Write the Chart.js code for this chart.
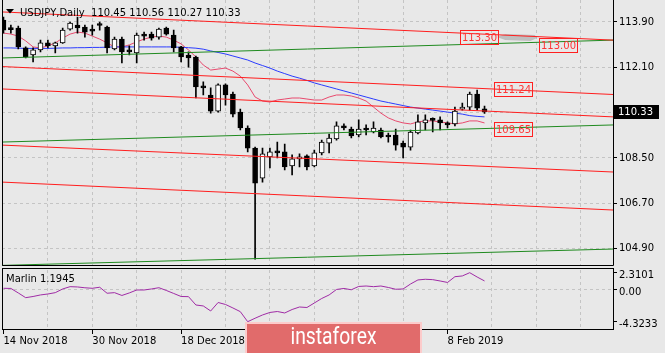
<!DOCTYPE html>
<html>
<head>
<meta charset="utf-8">
<script src="https://cdn.jsdelivr.net/npm/chart.js@4.4.1/dist/chart.umd.min.js"></script>
<style>
  html, body { margin: 0; padding: 0; background: #e8e8e8; }
  #chart { display: block; }
</style>
</head>
<body>
<canvas id="chart" width="665" height="353"></canvas>
<script>
// bar 0 = 14 Nov 2018, last bar = 15 Feb 2019 (daily)
const opens = [113.98,113.62,113.66,112.87,112.59,112.79,113.07,112.95,113.07,113.62,
  113.78,113.70,113.62,113.80,113.70,112.83,113.22,112.79,112.67,113.42,
  113.42,113.30,113.66,113.38,112.91,112.59,112.51,111.32,111.00,110.36,
  111.40,111.04,110.32,109.69,108.89,107.70,108.54,108.74,108.74,108.18,
  108.46,108.58,108.18,108.70,109.09,109.25,109.77,109.65,109.41,109.69,
  109.53,109.61,109.41,109.41,109.09,108.93,109.49,109.89,110.03,110.01,
  109.89,109.85,110.44,110.52,111.04,110.45];
const highs = [114.10,113.78,113.74,112.91,112.87,113.18,113.18,113.10,113.66,113.90,
  114.10,113.78,113.78,113.90,113.74,113.30,113.30,112.95,113.46,113.50,
  113.50,113.66,113.70,113.58,112.93,112.71,112.55,111.52,111.28,111.44,
  111.44,111.12,110.44,109.77,108.93,108.89,108.89,109.13,109.05,108.62,
  108.66,108.62,108.81,109.21,109.45,109.93,109.85,109.73,110.01,109.81,
  109.93,109.69,109.49,109.65,109.17,109.61,110.21,110.21,110.09,110.13,
  109.93,110.52,110.68,111.12,111.20,110.56];
const lows = [113.46,113.46,112.83,112.47,112.31,112.71,112.87,112.67,113.05,113.58,
  113.46,113.30,113.38,113.58,112.67,112.79,112.27,112.59,112.27,113.18,
  113.18,113.22,113.38,112.71,112.31,112.11,110.88,111.00,110.28,110.32,
  110.60,110.13,109.61,108.74,104.48,107.54,108.10,108.50,108.02,107.82,
  108.14,108.02,108.14,108.62,108.70,109.21,109.61,109.29,109.33,109.41,
  109.49,109.29,109.13,108.81,108.50,108.81,109.45,109.61,109.53,109.61,
  109.69,109.77,110.40,110.40,110.40,110.27];
const closes = [113.58,113.60,112.91,112.51,112.79,113.07,112.95,113.07,113.58,113.86,
  113.66,113.50,113.54,113.76,112.87,113.22,112.71,112.71,113.38,113.34,
  113.26,113.62,113.42,112.87,112.51,112.47,111.32,111.28,110.36,111.40,
  111.00,110.24,109.69,108.89,107.50,108.66,108.74,108.70,108.14,108.46,
  108.54,108.14,108.70,109.13,109.29,109.77,109.69,109.37,109.65,109.61,
  109.69,109.33,109.33,109.01,108.93,109.53,109.93,110.01,109.99,109.89,
  109.81,110.36,110.52,111.04,110.48,110.33];

// moving averages (blue = slow, pink = fast)
const maSlow = [112.87,112.87,112.86,112.85,112.85,112.85,112.85,112.86,112.87,112.87,
  112.88,112.88,112.89,112.89,112.90,112.91,112.91,112.91,112.91,112.91,
  112.91,112.91,112.91,112.91,112.89,112.88,112.86,112.82,112.75,112.69,
  112.63,112.55,112.47,112.39,112.27,112.17,112.07,111.95,111.85,111.75,
  111.67,111.58,111.48,111.40,111.32,111.24,111.16,111.08,111.00,110.92,
  110.84,110.76,110.70,110.64,110.58,110.52,110.48,110.44,110.40,110.36,
  110.32,110.28,110.24,110.18,110.15,110.13];
const maFast = [113.46,113.42,113.34,113.15,112.91,112.87,112.95,113.07,113.26,113.42,
  113.50,113.46,113.34,113.22,113.07,112.91,112.91,112.99,113.11,113.22,
  113.30,113.34,113.30,113.18,113.03,112.79,112.51,112.19,111.99,112.03,
  112.07,111.95,111.75,111.40,110.92,110.76,110.72,110.80,110.84,110.88,
  110.88,110.84,110.80,110.80,110.92,111.00,111.00,110.96,110.88,110.76,
  110.52,110.28,110.09,109.97,109.89,109.85,109.93,109.97,109.97,109.93,
  109.89,109.85,109.89,109.97,109.97,109.89];

const marlin = [0.20,0.18,-0.43,-1.07,-0.91,-0.70,-0.57,-0.39,0.11,0.42,
  0.38,0.27,0.20,0.34,-0.47,-0.39,-0.77,-0.43,-0.03,-0.03,
  0.11,0.28,-0.09,-0.50,-0.91,-0.93,-2.06,-2.19,-2.87,-1.72,
  -1.99,-2.46,-2.96,-4.32,-3.85,-3.41,-3.07,-2.94,-3.14,-2.67,
  -2.33,-2.40,-1.79,-1.18,-0.70,0.04,0.18,0.00,0.45,0.51,
  0.42,0.51,0.31,0.07,0.11,0.78,1.33,1.42,1.37,1.19,
  0.99,1.77,1.87,2.31,1.73,1.1945];

// axes
const gridBars = [0, 6, 12, 18, 24, 30, 36, 42, 48, 54, 60, 66, 72, 78];
const dateTicks = [0, 12, 24, 36, 48, 60];
const dateLabels = ['14 Nov 2018', '30 Nov 2018', '18 Dec 2018', '7 Jan 2019', '23 Jan 2019', '8 Feb 2019'];
const priceTicks = [104.90, 106.70, 108.50, 110.30, 112.10, 113.90];
const marlinTicks = [-4.3233, 0, 2.3101];

// drawn channel lines: price at left edge, price at right edge
const lineEnds = [-0.2, 82.36];
const redLines = [[114.30, 113.18], [112.13, 111.02], [111.24, 110.13], [109.01, 107.94], [107.54, 106.43]];
const greenLines = [[112.47, 113.18], [109.13, 109.81], [104.23, 104.88]];

// price labels on the lines
const levelTexts = ['113.30', '113.00', '111.24', '109.65'];
const levelBars = [61.7, 72.4, 66.3, 66.3];

// grey smudge near the top labels
const shadeBars = [66.7, 67.8, 71.8, 72.1, 71.2, 67.8];
const shadePrices = [113.30, 113.42, 113.38, 113.26, 113.15, 113.18];

Chart.defaults.font.family = "'DejaVu Sans', sans-serif";
Chart.defaults.font.size = 10;
Chart.defaults.color = '#000';

const BG = '#e8e8e8';
const GRID = '#c4c4c4';
const bars = opens.map((_, i) => i);
const last = bars.length - 1;

function trend(vals, color) {
    return {
        type: 'line',
        data: [{x: lineEnds[0], y: vals[0]}, {x: lineEnds[1], y: vals[1]}],
        borderColor: color, borderWidth: 1, pointRadius: 0,
        yAxisID: 'y', order: -1
    };
}

const mt4Decor = {
    id: 'mt4Decor',
    beforeDraw(chart) {
        const c = chart.ctx;
        c.save();
        c.fillStyle = BG;
        c.fillRect(0, 0, chart.width, chart.height);
        c.restore();
    },
    beforeDatasetsDraw(chart) {
        const c = chart.ctx, xs = chart.scales.x, ys = chart.scales.y;
        c.save();
        c.fillStyle = 'rgba(150,150,150,0.5)';
        c.beginPath();
        shadeBars.forEach((b, k) => {
            const px = xs.getPixelForValue(b), py = ys.getPixelForValue(shadePrices[k]);
            if (k) c.lineTo(px, py); else c.moveTo(px, py);
        });
        c.closePath();
        c.fill();
        c.restore();
    },
    afterDraw(chart) {
        const c = chart.ctx, a = chart.chartArea;
        const xs = chart.scales.x, ys = chart.scales.y;
        const split = Math.floor(ys.bottom);
        c.save();

        // gap between the two panes + frames
        c.fillStyle = BG;
        c.fillRect(a.left, split, a.right - a.left + 1, 2);
        c.strokeStyle = '#000';
        c.lineWidth = 1;
        c.beginPath();
        c.moveTo(a.left + 0.5, a.top);
        c.lineTo(a.left + 0.5, split - 0.5);
        c.lineTo(a.right + 0.5, split - 0.5);
        c.lineTo(a.right + 0.5, a.top);
        c.stroke();
        c.strokeRect(a.left + 0.5, split + 2.5, a.right - a.left, a.bottom - split - 3);

        // title
        c.fillStyle = '#000';
        c.font = "10px 'DejaVu Sans'";
        c.textAlign = 'left';
        c.textBaseline = 'alphabetic';
        const ohlc = [opens[last], highs[last], lows[last], closes[last]].map(v => v.toFixed(2)).join(' ');
        c.fillText('USDJPY,Daily  ' + ohlc, 20, 16);
        c.beginPath();
        c.moveTo(6, 9); c.lineTo(14, 9); c.lineTo(10, 13.5);
        c.closePath();
        c.fill();
        c.fillText('Marlin ' + marlin[last].toFixed(4), 6, 282);

        // level boxes
        levelTexts.forEach((t, k) => {
            const w = Math.round(c.measureText(t).width) + 3;
            const x0 = Math.round(xs.getPixelForValue(levelBars[k])) + 0.5;
            const y0 = Math.round(ys.getPixelForValue(parseFloat(t)) - 7) + 0.5;
            c.strokeStyle = '#ff2020';
            c.strokeRect(x0, y0, w, 14);
            c.fillStyle = '#ff3434';
            c.textAlign = 'center';
            c.textBaseline = 'middle';
            c.fillText(t, x0 + w / 2, y0 + 7.5);
        });

        // current price tag
        const py = Math.round(ys.getPixelForValue(closes[last]));
        c.fillStyle = '#000';
        c.fillRect(a.right, py - 7, 46, 14);
        c.fillStyle = '#fff';
        c.textAlign = 'left';
        c.textBaseline = 'middle';
        c.fillText(closes[last].toFixed(2), a.right + 5, py + 0.5);

        // watermark
        c.fillStyle = '#e16b6b';
        c.fillRect(245, 322, 177, 35);
        c.strokeStyle = 'rgba(255,214,214,0.9)';
        c.lineWidth = 2;
        c.strokeRect(246, 323, 175, 33);
        c.font = '23px Roboto';
        const tw = c.measureText('instaforex').width;
        c.translate(333.5, 344);
        c.scale(86 / tw, 1);
        c.fillStyle = '#fff';
        c.textAlign = 'center';
        c.textBaseline = 'alphabetic';
        c.fillText('instaforex', 0, 0);
        c.restore();
    }
};

new Chart(document.getElementById('chart'), {
    type: 'bar',
    data: {
        datasets: [
            ...redLines.map(l => trend(l, '#ff1e1e')),
            ...greenLines.map(l => trend(l, '#1f8a1f')),
            {
                type: 'bar',
                data: bars.map(i => ({x: i, y: [opens[i], closes[i]]})),
                backgroundColor: bars.map(i => closes[i] >= opens[i] ? '#fff' : '#000'),
                borderColor: '#000', borderWidth: 1, borderSkipped: false,
                barThickness: 5, minBarLength: 2, grouped: false,
                yAxisID: 'y', order: 0
            },
            {
                type: 'bar',
                data: bars.map(i => ({x: i, y: [lows[i], highs[i]]})),
                backgroundColor: '#000', borderWidth: 0,
                barThickness: 1, grouped: false,
                yAxisID: 'y', order: 1
            },
            {
                type: 'line',
                data: bars.map(i => ({x: i, y: maSlow[i]})),
                borderColor: '#2b3cff', borderWidth: 1, pointRadius: 0,
                yAxisID: 'y', order: 2
            },
            {
                type: 'line',
                data: bars.map(i => ({x: i, y: maFast[i]})),
                borderColor: '#e84a6e', borderWidth: 1, pointRadius: 0,
                yAxisID: 'y', order: 2
            },
            {
                type: 'line',
                data: bars.map(i => ({x: i, y: marlin[i]})),
                borderColor: '#a02ca6', borderWidth: 1, pointRadius: 0,
                yAxisID: 'y2', order: 2
            }
        ]
    },
    options: {
        responsive: false,
        devicePixelRatio: 1,
        animation: false,
        events: [],
        layout: { autoPadding: false, padding: { left: 2, top: 0, right: 0, bottom: 0 } },
        plugins: { legend: { display: false }, tooltip: { enabled: false } },
        scales: {
            x: {
                type: 'linear', min: lineEnds[0], max: lineEnds[1], offset: false,
                afterBuildTicks: s => { s.ticks = gridBars.map(v => ({value: v})); },
                afterFit: s => { s.height = 23; s.paddingLeft = 0; s.paddingRight = 0; },
                ticks: {
                    autoSkip: false, maxRotation: 0, minRotation: 0, align: 'start', padding: 1,
                    callback: v => { const k = dateTicks.indexOf(v); return k < 0 ? '' : dateLabels[k]; }
                },
                grid: {
                    offset: false,
                    color: ctx => ctx.tick && ctx.tick.value > 0 ? GRID : 'rgba(0,0,0,0)',
                    tickColor: ctx => ctx.tick && dateTicks.includes(ctx.tick.value) ? '#000' : 'rgba(0,0,0,0)',
                    tickLength: 4, tickBorderDash: []
                },
                border: { display: false, dash: [3, 3] }
            },
            y: {
                type: 'linear', position: 'right', stack: 'pane', stackWeight: 266.5,
                min: 104.186, max: 114.774, beginAtZero: false,
                afterBuildTicks: s => { s.ticks = priceTicks.map(v => ({value: v})); },
                afterFit: s => { s.width = 52; s.paddingTop = 0; s.paddingBottom = 0; },
                ticks: { padding: 2, callback: v => v.toFixed(2) },
                grid: { color: GRID, tickColor: '#000', tickLength: 4, tickBorderDash: [] },
                border: { display: false, dash: [3, 3] }
            },
            y2: {
                type: 'linear', position: 'right', stack: 'pane', stackWeight: 63.5,
                min: -5.443, max: 3.149, beginAtZero: false,
                afterBuildTicks: s => { s.ticks = marlinTicks.map(v => ({value: v})); },
                afterFit: s => { s.width = 52; s.paddingTop = 0; s.paddingBottom = 0; },
                ticks: { padding: 2, labelOffset: 3, callback: v => v === 0 ? '0.00' : v.toFixed(4) },
                grid: {
                    color: ctx => ctx.tick && ctx.tick.value === 0 ? GRID : 'rgba(0,0,0,0)',
                    tickColor: '#000', tickLength: 4, tickBorderDash: []
                },
                border: { display: false, dash: [3, 3] }
            }
        }
    },
    plugins: [mt4Decor]
});
</script>
</body>
</html>
